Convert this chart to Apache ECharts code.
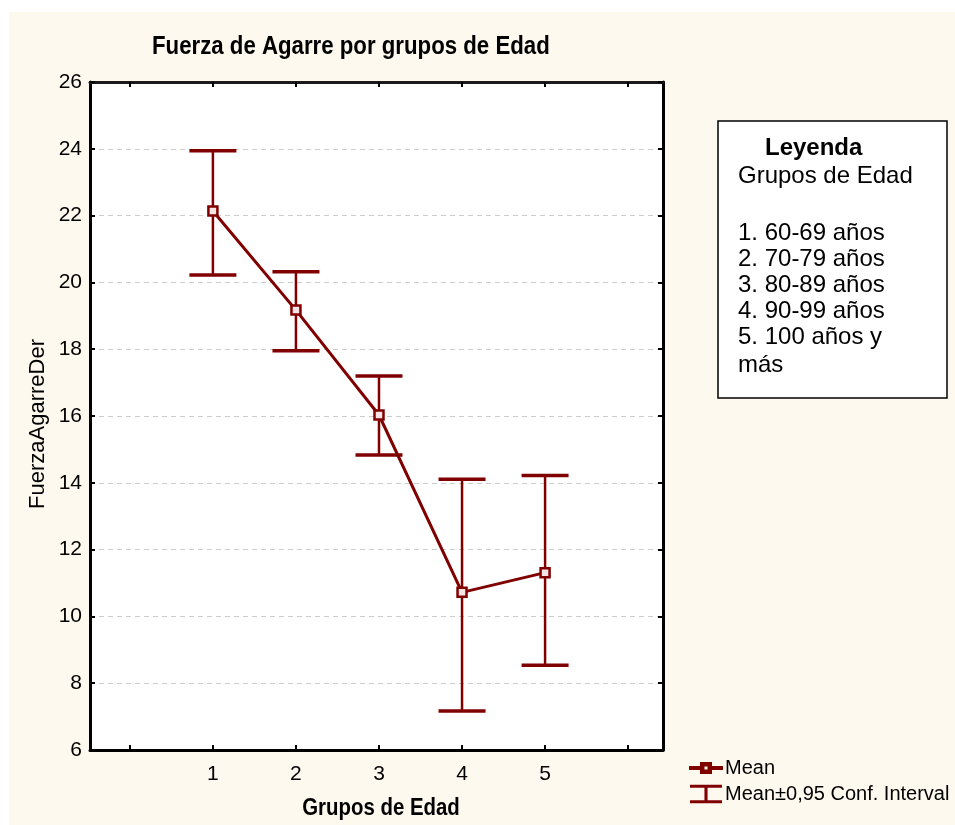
<!DOCTYPE html>
<html>
<head>
<meta charset="utf-8">
<script src="https://cdn.jsdelivr.net/npm/echarts@6/dist/echarts.min.js"></script>
<style>html,body{margin:0;padding:0;background:#fff}#c{width:955px;height:825px}</style>
</head>
<body>
<div id="c"></div>
<script>
const categories = [1, 2, 3, 4, 5];
const meanValues = [22.14, 19.17, 16.03, 10.72, 11.31];
const upperValues = [23.94, 20.32, 17.20, 14.11, 14.22];
const lowerValues = [20.22, 17.95, 14.83, 7.17, 8.54];
const xTickValues = [0, 1, 2, 3, 4, 5, 6];
const xLabelValues = [1, 2, 3, 4, 5];
const legendTitle = 'Leyenda';
const legendSubtitle = 'Grupos de Edad';
const legendLines = ['1. 60-69 años', '2. 70-79 años', '3. 80-89 años', '4. 90-99 años', '5. 100 años y', 'más'];

const RED = '#800000';
const chart = echarts.init(document.getElementById('c'), null, {renderer: 'canvas'});

const legendLineY = [233, 259, 285, 311, 337, 365];
const FONT = '"Liberation Sans", Arial';

const option = {
  backgroundColor: '#fef9ee',
  animation: false,
  grid: {left: 90, right: 292, top: 82, bottom: 75, show: true, backgroundColor: '#fff', borderWidth: 0,
         containLabel: false, outerBoundsMode: 'none'},
  legend: {
    orient: 'vertical', left: 684, top: 753, itemWidth: 32, itemHeight: 20, itemGap: 6,
    textStyle: {fontFamily: FONT, fontSize: 20, color: '#000', padding: [0, 0, 0, -2]},
    data: [
      {name: 'Mean', icon: 'path://M0,9H11V5H21V9H32V11H21V15H11V11H0Z M13.5,7.5V12.5H18.5V7.5Z', itemStyle: {color: RED}},
      {name: 'Mean±0,95 Conf. Interval', icon: 'path://M0,0H31V3H17V15H31V18H0V15H14V3H0Z', itemStyle: {color: RED}}
    ]
  },
  xAxis: [{
    type: 'value', min: -0.48, max: 6.42, position: 'bottom',
    axisLine: {onZero: false, lineStyle: {color: '#000', width: 3}},
    axisTick: {inside: true, length: 5, customValues: xTickValues, lineStyle: {color: '#000', width: 2}},
    axisLabel: {customValues: xLabelValues, fontFamily: FONT, fontSize: 21, color: '#000', margin: 14},
    splitLine: {show: false}
  }, {
    type: 'value', min: -0.48, max: 6.42, position: 'top',
    axisLine: {onZero: false, lineStyle: {color: '#1a1a1a', width: 3}},
    axisTick: {inside: true, length: 5, customValues: xTickValues, lineStyle: {color: '#000', width: 2}},
    axisLabel: {show: false},
    splitLine: {show: false}
  }],
  yAxis: [{
    type: 'value', min: 6, max: 26, interval: 2, position: 'left',
    axisLine: {show: true, onZero: false, lineStyle: {color: '#000', width: 3}},
    axisTick: {show: true, inside: true, length: 5, lineStyle: {color: '#000', width: 2}},
    axisLabel: {fontFamily: FONT, fontSize: 21, color: '#000', margin: 8},
    splitLine: {show: true, lineStyle: {color: '#cccccc', width: 1, type: [5, 4]}}
  }, {
    type: 'value', min: 6, max: 26, interval: 2, position: 'right',
    axisLine: {show: true, onZero: false, lineStyle: {color: '#000', width: 3}},
    axisTick: {show: true, inside: true, length: 5, lineStyle: {color: '#000', width: 2}},
    axisLabel: {show: false},
    splitLine: {show: false}
  }],
  series: [{
    name: 'Mean±0,95 Conf. Interval',
    type: 'custom',
    xAxisIndex: 0, yAxisIndex: 0,
    itemStyle: {color: RED},
    z: 2,
    renderItem: function (params, api) {
      const x = api.value(0);
      const pHi = api.coord([x, api.value(1)]);
      const pLo = api.coord([x, api.value(2)]);
      const hw = 23.5;
      return {
        type: 'group',
        children: [
          {type: 'line', shape: {x1: pHi[0], y1: pHi[1], x2: pLo[0], y2: pLo[1]}, style: {stroke: RED, lineWidth: 2.5}},
          {type: 'line', shape: {x1: pHi[0] - hw, y1: pHi[1], x2: pHi[0] + hw, y2: pHi[1]}, style: {stroke: RED, lineWidth: 3.5}},
          {type: 'line', shape: {x1: pLo[0] - hw, y1: pLo[1], x2: pLo[0] + hw, y2: pLo[1]}, style: {stroke: RED, lineWidth: 3.5}}
        ]
      };
    },
    data: categories.map((c, i) => [c, upperValues[i], lowerValues[i]])
  }, {
    name: 'Mean',
    type: 'line',
    xAxisIndex: 0, yAxisIndex: 0,
    z: 3,
    symbol: 'rect', symbolSize: 9,
    lineStyle: {color: RED, width: 3},
    itemStyle: {color: '#f8e4e4', borderColor: RED, borderWidth: 2.5},
    data: categories.map((c, i) => [c, meanValues[i]])
  }],
  graphic: [
    {type: 'rect', left: 0, top: 0, shape: {width: 955, height: 12}, style: {fill: '#fff'}, silent: true},
    {type: 'rect', left: 0, top: 0, shape: {width: 9, height: 825}, style: {fill: '#fff'}, silent: true},
    {type: 'text', x: 152, y: 47, scaleX: 0.855,
     style: {text: 'Fuerza de Agarre por grupos de Edad', font: 'bold 26px ' + FONT, fill: '#000', verticalAlign: 'middle'}},
    {type: 'text', x: 381, y: 808, scaleX: 0.85,
     style: {text: 'Grupos de Edad', font: 'bold 24px ' + FONT, fill: '#000', align: 'center', verticalAlign: 'middle'}},
    {type: 'text', x: 38, y: 424, rotation: Math.PI / 2,
     style: {text: 'FuerzaAgarreDer', font: '22px ' + FONT, fill: '#000', align: 'center', verticalAlign: 'middle'}},
    {type: 'rect', shape: {x: 718, y: 121, width: 229, height: 277}, style: {fill: '#fff', stroke: '#000', lineWidth: 1.5}},
    {type: 'text', x: 765, y: 148, style: {text: legendTitle, font: 'bold 24px ' + FONT, fill: '#000', verticalAlign: 'middle'}},
    {type: 'text', x: 738, y: 176, style: {text: legendSubtitle, font: '24px ' + FONT, fill: '#000', verticalAlign: 'middle'}}
  ].concat(legendLines.map((t, i) => ({
    type: 'text', x: 738, y: legendLineY[i],
    style: {text: t, font: '24px ' + FONT, fill: '#000', verticalAlign: 'middle'}
  })))
};
chart.setOption(option);
</script>
</body>
</html>
